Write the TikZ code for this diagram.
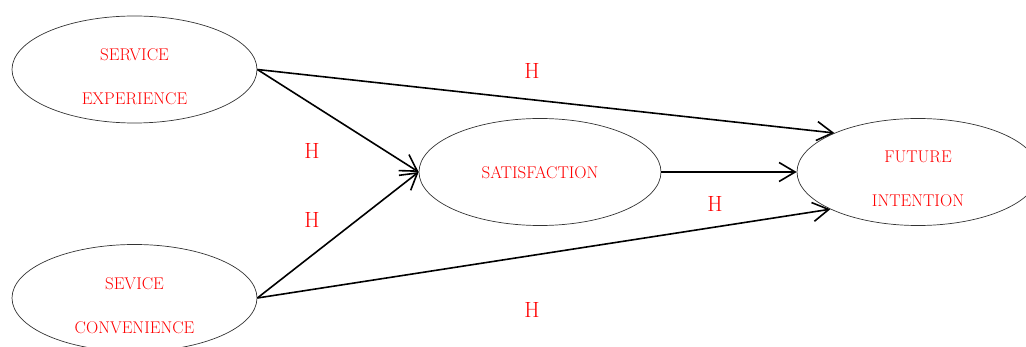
\documentclass[tikz,border=0pt]{standalone}
\usetikzlibrary{shapes.geometric,arrows.meta}
\begin{document}
\begin{tikzpicture}[x=1pt,y=-1pt,
  construct/.style={ellipse,draw=black!80,line width=0.7pt,minimum width=245pt,minimum height=107pt,inner sep=0pt},
  lbl/.style={text=red,align=center,font=\fontsize{17}{44}\selectfont},
  hyp/.style={text=red,font=\fontsize{22}{26}\selectfont},
  link/.style={line width=1.6pt,-{Straight Barb[length=16pt,width=19pt,line width=1.6pt]}}]
\useasboundingbox (0,0) rectangle (1026,347);
\clip (0,0) rectangle (1026,347);
\node[construct] (se) at (134.5,69.5) {};
\node[construct] (sc) at (134.5,298) {};
\node[construct,minimum width=242pt] (sat) at (540,172) {};
\node[construct,minimum width=242pt] (fi) at (918,172) {};
\node[lbl] (setext) at ([yshift=-7.5pt]se.center) {SERVICE\\EXPERIENCE};
\node[lbl] (sctext) at ([yshift=-7.5pt]sc.center) {SEVICE\\CONVENIENCE};
\node[lbl] (sattext) at ([yshift=-1pt]sat.center) {SATISFACTION};
\node[lbl] (fitext) at ([yshift=-7pt]fi.center) {FUTURE\\INTENTION};
\draw[link] (se.east) -- (sat.west);
\draw[link] (se.east) -- (fi.155.6);
\draw[link] (sc.east) -- (sat.west);
\draw[link] (sc.east) -- (fi.203);
\draw[link] (sat.east) -- (fi.west);
\node[hyp] (h1) at (532,70.5) {H};
\node[hyp] (h2) at (312,151) {H};
\node[hyp] (h3) at (312,220) {H};
\node[hyp] (h4) at (715,204) {H};
\node[hyp] (h5) at (532,310) {H};
\end{tikzpicture}
\end{document}
